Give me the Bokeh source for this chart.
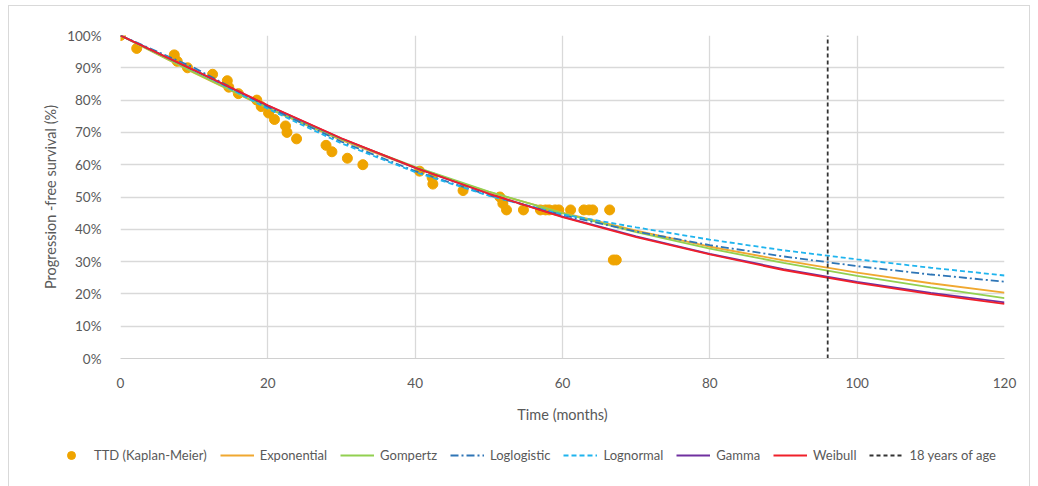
from bokeh.plotting import figure
from bokeh.layouts import column
from bokeh.models import Range1d, Legend, LegendItem, PrintfTickFormatter, FixedTicker
from bokeh.embed import file_html
from bokeh.resources import INLINE

# ---- data ----
km_t = [0, 2.2, 7.3, 7.7, 9.1, 12.5, 14.5, 14.7, 16.0, 18.5, 19.1, 20.1, 20.9, 22.4, 22.6, 23.9,
        27.9, 28.7, 30.8, 32.9, 40.6, 42.3, 42.4, 46.5, 51.5, 51.9, 52.4, 54.7, 57.0, 57.7, 58.2,
        59.0, 59.5, 61.1, 62.9, 63.6, 64.1, 66.4, 66.9, 67.3]
km_s = [100, 96, 94, 92, 90, 88, 86, 84, 82, 80, 78, 76, 74, 72, 70, 68,
        66, 64, 62, 60, 58, 56, 54, 52, 50, 48, 46, 46, 46, 46, 46,
        46, 46, 46, 46, 46, 46, 46, 30.5, 30.5]

months = [0, 10, 20, 30, 40, 50, 60, 70, 80, 90, 100, 110, 120]
exponential = [100, 88.4, 77.4, 67.6, 59.0, 51.5, 45.2, 39.6, 34.6, 30.4, 26.6, 23.3, 20.4]
gompertz = [100, 88.6, 77.6, 67.9, 59.3, 51.7, 45.0, 39.1, 34.0, 29.6, 25.6, 22.0, 18.7]
loglogistic = [100, 90.0, 77.9, 67.1, 58.0, 50.5, 44.4, 39.3, 35.1, 31.6, 28.6, 26.0, 23.8]
lognormal = [100, 89.5, 77.3, 66.6, 57.7, 50.4, 44.6, 40.6, 36.8, 33.5, 30.7, 28.1, 25.7]
gamma = [100, 89.2, 78.3, 68.1, 59.0, 51.0, 43.9, 37.8, 32.4, 27.7, 23.7, 20.3, 17.4]
weibull = [100, 89.3, 78.4, 68.2, 59.1, 51.0, 43.8, 37.6, 32.2, 27.4, 23.4, 19.9, 16.9]
age18_t = [96, 96]
age18_s = [0, 100]

x_ticks = [0, 20, 40, 60, 80, 100, 120]
y_ticks = [0, 10, 20, 30, 40, 50, 60, 70, 80, 90, 100]

series_labels = ["TTD (Kaplan-Meier)", "Exponential", "Gompertz", "Loglogistic",
                 "Lognormal", "Gamma", "Weibull", "18 years of age"]

FONT = "Lato"
GRAY = "#595959"

STYLES = {
    "Exponential": dict(color="#F0A830", line_width=1.8),
    "Gompertz": dict(color="#92D050", line_width=1.8),
    "Loglogistic": dict(color="#2E75B6", line_width=1.8, line_dash="8 3 2 3"),
    "Lognormal": dict(color="#1FB4EE", line_width=1.8, line_dash="5 3"),
    "Gamma": dict(color="#7030A0", line_width=1.8),
    "Weibull": dict(color="#F0202A", line_width=1.8),
    "18 years of age": dict(color="#333333", line_width=1.8, line_dash="4 3"),
}
KM_STYLE = dict(size=10, color="#EFA400", line_color="#EFA400")
curves = {
    "Exponential": (months, exponential),
    "Gompertz": (months, gompertz),
    "Loglogistic": (months, loglogistic),
    "Lognormal": (months, lognormal),
    "Gamma": (months, gamma),
    "Weibull": (months, weibull),
    "18 years of age": (age18_t, age18_s),
}

p = figure(width=1020, height=425, output_backend="svg", toolbar_location=None,
           x_range=Range1d(0, 120), y_range=Range1d(0, 100),
           min_border_left=111, min_border_right=25, min_border_top=29, min_border_bottom=73)
p.frame_align = False
p.outline_line_color = None
p.background_fill_color = "white"

p.xaxis.ticker = FixedTicker(ticks=x_ticks)
p.yaxis.ticker = FixedTicker(ticks=y_ticks)
p.yaxis.formatter = PrintfTickFormatter(format="%d%%")
for ax in (p.xaxis[0], p.yaxis[0]):
    ax.major_tick_line_color = None
    ax.minor_tick_line_color = None
    ax.major_label_text_font = FONT
    ax.major_label_text_font_size = "13.5px"
    ax.major_label_text_color = GRAY
    ax.axis_label_text_font = FONT
    ax.axis_label_text_font_style = "normal"
    ax.axis_label_text_color = GRAY
    ax.axis_label_text_font_size = "14.5px"
p.xaxis.axis_line_color = "#d0d0d0"
p.yaxis.axis_line_color = None
p.xaxis.major_label_standoff = 13
p.yaxis.major_label_standoff = 13
p.xaxis.axis_label = "Time (months)"
p.yaxis.axis_label = "Progression -free survival (%)"
p.xaxis.axis_label_standoff = 15
p.yaxis.axis_label_standoff = 5

p.xgrid.ticker = FixedTicker(ticks=x_ticks)
p.ygrid.ticker = FixedTicker(ticks=y_ticks)
p.xgrid.grid_line_color = "#d9d9d9"
p.ygrid.grid_line_color = "#d9d9d9"
p.xgrid.grid_line_width = 1.3
p.ygrid.grid_line_width = 1.3

p.scatter(km_t, km_s, **KM_STYLE)
for lab in series_labels[1:]:
    xs, ys = curves[lab]
    p.line(xs, ys, **STYLES[lab])

# ---- legend strip (separate figure; its renderers lie outside its ranges) ----
lg = figure(width=1020, height=55, output_backend="svg", toolbar_location=None,
            x_range=Range1d(0, 1), y_range=Range1d(1000, 1001),
            min_border_left=0, min_border_right=0, min_border_top=0, min_border_bottom=0)
lg.frame_align = False
lg.axis.visible = False
lg.grid.visible = False
lg.outline_line_color = None
items = [LegendItem(label=series_labels[0], renderers=[lg.scatter(km_t, km_s, **KM_STYLE)])]
for lab in series_labels[1:]:
    xs, ys = curves[lab]
    items.append(LegendItem(label=lab, renderers=[lg.line(xs, ys, **STYLES[lab])]))
legend = Legend(items=items, orientation="horizontal", location=(45, 21))
legend.label_text_font = FONT
legend.label_text_font_size = "13px"
legend.label_text_color = GRAY
legend.glyph_width = 34
legend.label_standoff = 6
legend.spacing = 13
legend.padding = 0
legend.margin = 0
legend.border_line_color = None
legend.background_fill_alpha = 0
lg.add_layout(legend, "center")

layout = column(p, lg, spacing=0)
layout.styles = {"border": "1px solid #d9d9d9", "margin-left": "8px", "margin-top": "5px"}

open("out.html", "w").write(file_html(layout, INLINE))
